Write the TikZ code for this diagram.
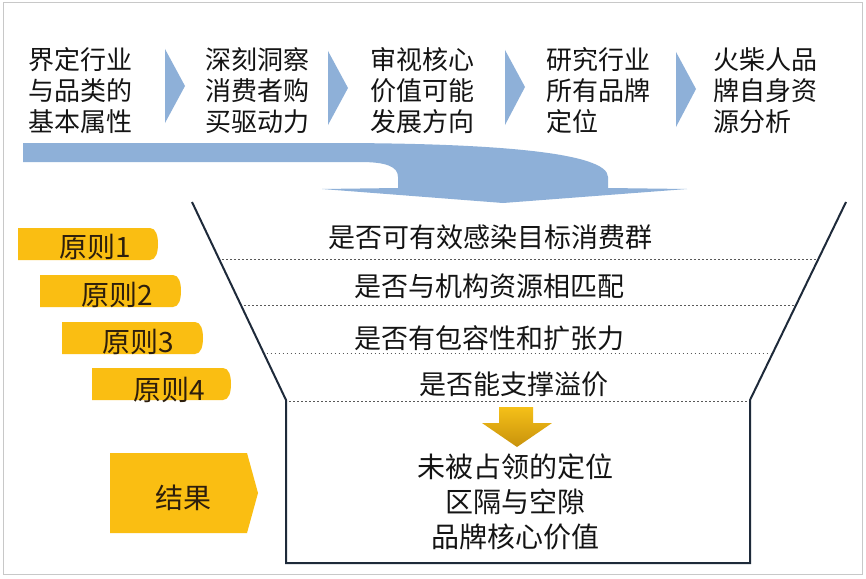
\documentclass[tikz,border=0pt]{standalone}
\usepackage{fontspec}
\setmainfont{Noto Sans CJK SC}
\usetikzlibrary{calc}
\definecolor{bandblue}{RGB}{142,176,216}
\definecolor{tagyellow}{RGB}{250,190,18}
\definecolor{funnelline}{RGB}{30,42,58}
\definecolor{txt}{RGB}{20,20,20}
\definecolor{tagtxt}{RGB}{45,30,12}
\definecolor{goldtop}{RGB}{245,192,24}
\definecolor{goldbot}{RGB}{200,146,12}
\definecolor{framegray}{RGB}{200,200,200}
\begin{document}
\begin{tikzpicture}[x=1pt,y=-1pt,
 steptext/.style={font=\fontsize{26}{31}\selectfont, align=left, anchor=west, inner sep=0pt, text=txt},
 rowtext/.style={font=\fontsize{27}{32}\selectfont, inner sep=0pt, text=txt},
 tagtext/.style={font=\fontsize{28}{30}\selectfont, inner sep=0pt, text=tagtxt},
 chev/.style={fill=bandblue},
 tagshape/.style={fill=tagyellow},
 funnel/.style={draw=funnelline, line width=2pt, line join=miter},
 sepline/.style={draw=black!65, line width=1pt, dash pattern=on 1.5pt off 2.5pt},
]
\useasboundingbox (0,0) rectangle (866,578);
\fill[white] (0,0) rectangle (866,578);
\draw[framegray, line width=1pt] (3,3) rectangle (862,574);

% step texts
\node[steptext] (s1) at (28,91) {界定行业\\与品类的\\基本属性};
\node[steptext] (s2) at (205,91) {深刻洞察\\消费者购\\买驱动力};
\node[steptext] (s3) at (370,91) {审视核心\\价值可能\\发展方向};
\node[steptext] (s4) at (546,91) {研究行业\\所有品牌\\定位};
\node[steptext] (s5) at (713,91) {火柴人品\\牌自身资\\源分析};

% chevrons
\fill[chev] (165,49) -- (185,86) -- (165,123) -- cycle;
\fill[chev] (328,51) -- (348,88) -- (328,125) -- cycle;
\fill[chev] (505,50) -- (525,87) -- (505,125) -- cycle;
\fill[chev] (676,52) -- (696,89) -- (676,127) -- cycle;

% big bent arrow
\fill[bandblue] (23,143) -- (330,143) .. controls (490,143) and (608,152) .. (608,177)
  -- (608,188) -- (687,189) -- (503,203) -- (322,189) -- (398,188) -- (398,177)
  .. controls (398,166) and (385,162) .. (360,162) -- (23,162) -- cycle;

% funnel
\coordinate (fTL) at (192,202);
\coordinate (fNL) at (286,400);
\coordinate (fBL) at (286,563);
\coordinate (fBR) at (750,563);
\coordinate (fNR) at (750,400);
\coordinate (fTR) at (846,202);
\draw[funnel] (fTL) -- (fNL) -- (fBL) -- (fBR) -- (fNR) -- (fTR);

\draw[sepline] ($(fTL)!0.288!(fNL)+(3,0)$) -- ($(fTR)!0.288!(fNR)-(2,0)$);
\draw[sepline] ($(fTL)!0.525!(fNL)+(3,0)$) -- ($(fTR)!0.525!(fNR)-(2,0)$);
\draw[sepline] ($(fTL)!0.763!(fNL)+(3,0)$) -- ($(fTR)!0.763!(fNR)-(2,0)$);
\draw[sepline] ($(fNL)+(3,1)$) -- ($(fNR)+(-3,1)$);

% row texts
\node[rowtext] (r1) at (490,237) {是否可有效感染目标消费群};
\node[rowtext] (r2) at (489,286) {是否与机构资源相匹配};
\node[rowtext] (r3) at (489,338) {是否有包容性和扩张力};
\node[rowtext] (r4) at (514,384) {是否能支撑溢价};

% gold arrow
\shade[top color=goldtop, bottom color=goldbot] (499,407) -- (533,407) -- (533,423) -- (552,423)
  -- (517,447) -- (482,423) -- (499,423) -- cycle;

% result text
\node[rowtext, font=\fontsize{28}{35}\selectfont, align=center] (res) at (515,502) {未被占领的定位\\区隔与空隙\\品牌核心价值};

% tags
\fill[tagshape] (18,228) -- (150,228) .. controls (156,228) and (158,236) .. (158,244)
  .. controls (158,252) and (156,260) .. (150,260) -- (18,260) -- cycle;
\fill[tagshape] (40,275) -- (173,275) .. controls (179,275) and (181,283) .. (181,291)
  .. controls (181,299) and (179,307) .. (173,307) -- (40,307) -- cycle;
\fill[tagshape] (62,322) -- (195,322) .. controls (201,322) and (203,330) .. (203,338)
  .. controls (203,346) and (201,354) .. (195,354) -- (62,354) -- cycle;
\fill[tagshape] (92,368) -- (223,368) .. controls (229,368) and (231,376) .. (231,384)
  .. controls (231,392) and (229,400) .. (223,400) -- (92,400) -- cycle;
\node[tagtext] (t1) at (95,247) {原则1};
\node[tagtext] (t2) at (117,295) {原则2};
\node[tagtext] (t3) at (138,342) {原则3};
\node[tagtext] (t4) at (169,390) {原则4};

\fill[tagshape] (110,453) -- (247,453) -- (258,493) -- (247,533) -- (110,533) -- cycle;
\node[tagtext, font=\fontsize{28}{32}\selectfont] (t5) at (183,498) {结果};
\end{tikzpicture}
\end{document}
